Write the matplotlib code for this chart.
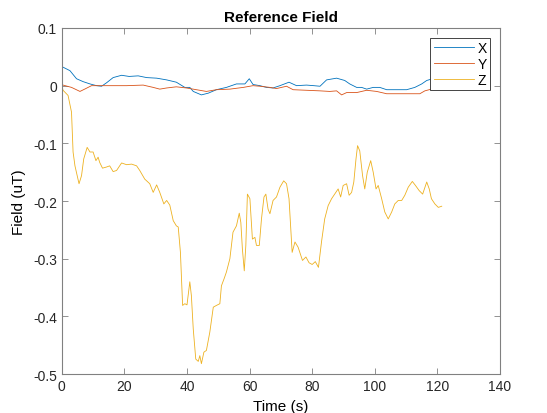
import numpy as np
import matplotlib
matplotlib.use('Agg')
import matplotlib.pyplot as plt

plt.rcParams['font.family'] = ['Liberation Sans', 'DejaVu Sans']
plt.rcParams['axes.unicode_minus'] = False

# values
t_x = [0, 0.4, 2.6, 4.7, 6.8, 9, 11.1, 12.7, 14.3, 16.4, 19.1, 21.5, 24.4, 27.1, 30.3,
       33.5, 36.6, 39.3, 40.9, 42, 44.6, 46.8, 49.4, 52.6, 55.8, 58.5, 59.9, 61.1, 63.3,
       65.4, 67.5, 69.7, 72.6, 75, 78.2, 80.5, 82.5, 84.6, 87.8, 90.4, 92, 94.2, 95.8,
       97.4, 99.5, 101.6, 103.8, 107, 110.2, 112.8, 115, 116.6, 118.5, 120.3, 121.5]
x_val = [0.031, 0.032, 0.026, 0.012, 0.007, 0.003, 0.0, -0.001, 0.005, 0.014, 0.018, 0.016,
         0.017, 0.014, 0.013, 0.010, 0.006, -0.003, -0.003, -0.010, -0.016, -0.013, -0.007,
         -0.003, 0.003, 0.003, 0.012, 0.002, 0.0, -0.003, -0.004, 0.0, 0.006, 0.0, 0.001,
         0.0, -0.001, 0.010, 0.013, 0.009, 0.003, -0.003, -0.003, -0.006, -0.003, -0.003,
         -0.007, -0.007, -0.007, -0.003, 0.003, 0.009, 0.012, 0.015, 0.016]

t_y = [0, 0.4, 3.1, 5.8, 7.3, 9.5, 13.2, 20.7, 26, 29.2, 31.3, 33.5, 36.6, 39.8, 43, 46.2,
       49.4, 53.7, 58, 61.1, 63.3, 66.5, 68.6, 71.8, 73.9, 78.2, 82.5, 85.6, 87.8, 89.4,
       91, 94.2, 97.4, 100.6, 103.8, 107, 111.3, 114.4, 116, 118.1, 120.3, 121.5]
y_val = [0.001, 0.001, -0.003, -0.010, -0.006, 0.0, 0.0, 0.0, 0.001, -0.003, -0.006, -0.004,
         -0.002, -0.004, -0.007, -0.010, -0.007, -0.006, -0.003, 0.0, -0.001, -0.003, -0.005,
         -0.001, -0.007, -0.008, -0.009, -0.010, -0.009, -0.016, -0.012, -0.012, -0.008,
         -0.010, -0.014, -0.014, -0.014, -0.014, -0.009, -0.006, -0.006, -0.006]

t_z = [0, 0.4, 2, 3.1, 3.6, 4.2, 5.5, 6.3, 7.0, 8.1, 9, 10, 10.9, 11.6, 12.1, 13, 14.3,
       15.3, 16.4, 17.5, 19.1, 20.7, 22.3, 23.9, 24.9, 26.5, 28.1, 29.2, 30.3, 31.3, 32.6,
       33.5, 34.5, 35.6, 36.6, 37.2, 37.9, 38.6, 39.3, 40.0, 40.9, 41.4, 42.0, 42.8, 43.6,
       44.1, 44.6, 45.4, 46.2, 47.3, 48.4, 49.4, 50.5, 51.0, 51.9, 52.6, 53.7, 54.7, 55.8,
       56.7, 57.2, 57.7, 58.3, 58.8, 59.3, 60.1, 60.9, 61.7, 62.2, 63.1, 63.8, 64.6, 65.2,
       65.9, 66.5, 67.5, 68.6, 69.7, 70.9, 71.8, 72.6, 73.6, 74.5, 75.5, 76.9, 78.0, 79.0,
       80, 81, 82, 83, 84, 85.1, 86.2, 87.2, 88.3, 89.1, 89.9, 91, 91.8, 92.6, 93.3, 94,
       94.5, 95.2, 96.1, 96.8, 97.6, 98.7, 99.5, 100.4, 101.1, 102.2, 103.2, 104.3, 105.4,
       106.4, 107.5, 108.6, 109.6, 110.7, 112, 113, 114.2, 115.3, 116.6, 117.4, 118.1,
       119.2, 120.3, 121.4]
z_val = [0.0, -0.008, -0.017, -0.046, -0.115, -0.139, -0.17, -0.156, -0.127, -0.107, -0.115,
         -0.115, -0.130, -0.124, -0.133, -0.143, -0.141, -0.139, -0.149, -0.147, -0.134,
         -0.137, -0.136, -0.139, -0.147, -0.162, -0.170, -0.185, -0.172, -0.185, -0.205,
         -0.199, -0.207, -0.234, -0.243, -0.245, -0.289, -0.381, -0.378, -0.380, -0.340,
         -0.364, -0.422, -0.474, -0.478, -0.468, -0.482, -0.462, -0.459, -0.427, -0.384,
         -0.381, -0.378, -0.347, -0.334, -0.323, -0.300, -0.254, -0.243, -0.221, -0.237,
         -0.283, -0.321, -0.277, -0.188, -0.196, -0.266, -0.263, -0.277, -0.277, -0.231,
         -0.193, -0.188, -0.214, -0.222, -0.199, -0.193, -0.176, -0.165, -0.170, -0.196,
         -0.289, -0.271, -0.280, -0.303, -0.297, -0.307, -0.31, -0.305, -0.315, -0.27,
         -0.231, -0.208, -0.196, -0.188, -0.179, -0.193, -0.173, -0.170, -0.19, -0.185,
         -0.167, -0.127, -0.104, -0.113, -0.156, -0.179, -0.150, -0.130, -0.150, -0.179,
         -0.173, -0.196, -0.219, -0.231, -0.219, -0.205, -0.199, -0.199, -0.19, -0.176,
         -0.166, -0.173, -0.182, -0.188, -0.167, -0.179, -0.196, -0.205, -0.211, -0.209]

fig = plt.figure(figsize=(5.47, 4.14), dpi=100)
ax = fig.add_axes([0.113, 0.094, 0.801, 0.836])

ax.plot(t_x, x_val, color='#0072BD', lw=0.6, label='X')
ax.plot(t_y, y_val, color='#D95319', lw=0.6, label='Y')
ax.plot(t_z, z_val, color='#EDB120', lw=0.6, label='Z')

ax.set_xlim(0, 140)
ax.set_ylim(-0.5, 0.1)
ax.set_xticks(np.arange(0, 141, 20))
ax.set_yticks([-0.5, -0.4, -0.3, -0.2, -0.1, 0, 0.1])
ax.set_yticklabels(['-0.5', '-0.4', '-0.3', '-0.2', '-0.1', '0', '0.1'])

ax.tick_params(direction='in', top=True, right=True, labelsize=10,
               color='#808080', labelcolor='#262626', length=4, width=0.6)
for s in ax.spines.values():
    s.set_color('#808080')
    s.set_linewidth(0.8)

ax.set_title('Reference Field', fontsize=11, fontweight='bold', pad=5)
ax.set_xlabel('Time (s)', fontsize=11, labelpad=4)
ax.set_ylabel('Field (uT)', fontsize=11, labelpad=5)

leg = ax.legend(loc='upper right', fontsize=10, fancybox=False, framealpha=1,
                edgecolor='#262626', borderpad=0.25, labelspacing=0.12,
                handlelength=2.9, handletextpad=0.25, borderaxespad=0.7)
leg.get_frame().set_linewidth(0.6)

fig.savefig('out.png', dpi=100)
